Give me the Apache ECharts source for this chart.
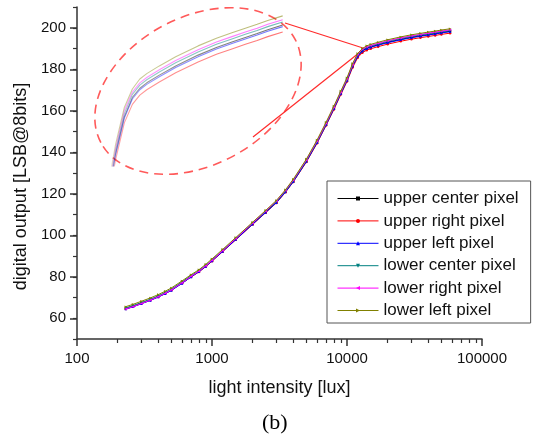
<!DOCTYPE html>
<html>
<head>
<meta charset="utf-8">
<script src="https://cdn.jsdelivr.net/npm/echarts@6/dist/echarts.min.js"></script>
<style>
  html, body { margin: 0; padding: 0; background: #fff; }
  #chart { width: 543px; height: 441px; }
</style>
</head>
<body>
<div id="chart"></div>
<script>
// light intensity [lux]
const lux = [230, 260, 300, 350, 400, 450, 500, 600, 700, 800, 900, 1000, 1200, 1500, 2000, 2500, 3000, 3500, 4000,
  5000, 6000, 7000, 8000, 9000, 10000, 11000, 12000, 13000, 14000, 15000, 17000, 20000, 25000, 30000, 35000,
  40000, 45000, 50000, 58000];

// digital output per pixel
const upperCenter = [64.7, 65.8, 67.3, 68.9, 70.5, 72.1, 73.7, 77.2, 80.2, 82.6, 85.2, 87.8, 92.4, 98.1, 105.5, 111.2,
  115.9, 121.0, 126.0, 135.7, 144.8, 153.4, 161.2, 168.4, 174.8, 181.6, 186.4, 188.9, 190.1, 190.8, 191.8, 193.0,
  194.4, 195.4, 196.1, 196.7, 197.2, 197.7, 198.3];
const upperRight = [64.5, 65.6, 67.1, 68.7, 70.3, 71.9, 73.5, 76.9, 79.9, 82.3, 84.9, 87.5, 92.1, 97.8, 105.2, 110.9,
  115.6, 120.7, 125.7, 135.3, 144.3, 152.9, 160.6, 167.8, 174.1, 180.8, 185.6, 188.0, 189.2, 189.9, 190.9, 192.1,
  193.5, 194.5, 195.2, 195.8, 196.3, 196.8, 197.4];
const upperLeft = [64.4, 65.5, 67.0, 68.6, 70.2, 71.8, 73.4, 76.8, 79.9, 82.4, 85.0, 87.6, 92.2, 97.9, 105.3, 111.0,
  115.7, 120.8, 125.8, 135.5, 144.6, 153.2, 161.0, 168.2, 174.6, 181.4, 186.2, 188.7, 189.9, 190.6, 191.6, 192.8,
  194.2, 195.2, 195.9, 196.5, 197.0, 197.5, 198.1];
const lowerCenter = [65.0, 66.1, 67.6, 69.2, 70.8, 72.4, 74.0, 77.5, 80.5, 82.9, 85.5, 88.1, 92.7, 98.4, 105.8, 111.5,
  116.2, 121.3, 126.3, 136.0, 145.1, 153.7, 161.5, 168.7, 175.1, 182.0, 186.8, 189.3, 190.5, 191.2, 192.2, 193.4,
  194.8, 195.8, 196.5, 197.1, 197.6, 198.1, 198.7];
const lowerRight = [64.5, 65.6, 67.1, 68.8, 70.4, 72.0, 73.7, 77.1, 80.2, 82.7, 85.3, 87.9, 92.6, 98.4, 105.9, 111.7,
  116.5, 121.6, 126.6, 136.3, 145.4, 154.0, 161.8, 169.0, 175.4, 182.3, 187.2, 189.6, 190.8, 191.5, 192.5, 193.7,
  195.1, 196.1, 196.8, 197.4, 197.9, 198.4, 199.0];
const lowerLeft = [65.6, 66.7, 68.2, 69.8, 71.4, 73.0, 74.6, 78.0, 81.0, 83.4, 86.0, 88.6, 93.2, 98.9, 106.3, 112.0,
  116.8, 121.9, 127.0, 136.7, 145.9, 154.5, 162.3, 169.5, 175.9, 182.8, 187.6, 190.0, 191.3, 192.0, 193.0, 194.2,
  195.6, 196.6, 197.3, 197.9, 198.4, 198.9, 199.5];

const seriesNames = ['upper center pixel', 'upper right pixel', 'upper left pixel',
  'lower center pixel', 'lower right pixel', 'lower left pixel'];
const seriesValues = [upperCenter, upperRight, upperLeft, lowerCenter, lowerRight, lowerLeft];

// axis ticks
const yTickValues = [60, 80, 100, 120, 140, 160, 180, 200];
const xMinorValues = [200, 300, 400, 500, 600, 700, 800, 900, 2000, 3000, 4000, 5000, 6000, 7000, 8000, 9000,
  20000, 30000, 40000, 50000, 60000, 70000, 80000, 90000];

// zoomed region of the inset (around the knee)
const kneePoint = [13500, 190];
const insetMinLux = 10000;

const colors = ['#000000', '#ff0000', '#0000ff', '#008080', '#ff00ff', '#808000'];
const rgb = [[0, 0, 0], [255, 0, 0], [0, 0, 255], [0, 128, 128], [255, 0, 255], [128, 128, 0]];
const symbols = ['rect', 'circle', 'triangle', 'triangle', 'triangle', 'triangle'];
const symbolRotates = [0, 0, 0, 180, 90, -90];

const font = 'Liberation Sans, Arial, sans-serif';
const axisColor = '#333';

const mainSeries = seriesNames.map((name, k) => ({
  name: name,
  type: 'line',
  xAxisIndex: 0,
  yAxisIndex: 0,
  data: lux.map((x, i) => [x, seriesValues[k][i]]),
  symbol: symbols[k],
  symbolRotate: symbolRotates[k],
  symbolSize: 2.5,
  lineStyle: { width: 1, color: colors[k] },
  itemStyle: { color: colors[k] },
  emphasis: { disabled: true },
  z: 3 + k
}));

const insetSeries = seriesNames.map((name, k) => {
  const c = rgb[k].join(',');
  return {
    name: 'inset ' + name,
    type: 'line',
    xAxisIndex: 2,
    yAxisIndex: 2,
    data: lux.map((x, i) => [x, seriesValues[k][i]]).filter(d => d[0] >= insetMinLux),
    showSymbol: false,
    silent: true,
    lineStyle: {
      width: 1.1,
      color: {
        type: 'linear', x: 0, y: 1, x2: 1, y2: 0,
        colorStops: [
          { offset: 0, color: 'rgba(' + c + ',0)' },
          { offset: 0.2, color: 'rgba(' + c + ',0.35)' },
          { offset: 1, color: 'rgba(' + c + ',0.55)' }
        ]
      }
    },
    z: 2
  };
});

const chart = echarts.init(document.getElementById('chart'));

chart.setOption({
  animation: false,
  backgroundColor: '#fff',
  title: {
    text: '(b)',
    left: 262,
    top: 412,
    padding: 0,
    textStyle: { fontFamily: 'Liberation Serif, Times New Roman, serif', fontSize: 22, fontWeight: 'normal', color: '#000' }
  },
  legend: {
    data: seriesNames,
    orient: 'vertical',
    left: 327,
    top: 181,
    padding: [9, 12, 4, 10],
    itemGap: 5.4,
    itemWidth: 41,
    itemHeight: 5,
    borderColor: '#555',
    borderWidth: 1,
    selectedMode: false,
    lineStyle: { width: 1 },
    textStyle: { fontFamily: font, fontSize: 17, color: '#111' }
  },
  grid: [
    { left: 77, right: 61, top: 7, bottom: 102 },
    { left: 106, top: 12, width: 185, height: 154 }
  ],
  xAxis: [
    {
      type: 'log', logBase: 10, gridIndex: 0, min: 100, max: 100000,
      name: 'light intensity [lux]', nameLocation: 'middle', nameGap: 40,
      nameTextStyle: { fontFamily: font, fontSize: 18, color: '#111' },
      axisLine: { onZero: false, lineStyle: { color: axisColor, width: 1.5 } },
      axisTick: { inside: false, length: 7, lineStyle: { color: axisColor, width: 1.5 } },
      axisLabel: { fontFamily: font, fontSize: 15, color: '#111', margin: 12, formatter: v => String(Math.round(v)) },
      splitLine: { show: false }, minorTick: { show: false }
    },
    {
      // minor ticks of the log axis, placed at log10 of the tick values
      type: 'value', gridIndex: 0, min: 2, max: 5, position: 'bottom',
      axisLine: { show: false, onZero: false },
      axisTick: { show: true, inside: false, length: 4, customValues: xMinorValues.map(v => Math.log10(v)), lineStyle: { color: axisColor, width: 1.2 } },
      axisLabel: { show: false },
      splitLine: { show: false }
    },
    {
      type: 'log', logBase: 10, gridIndex: 1, min: insetMinLux, max: 63000, show: false
    }
  ],
  yAxis: [
    {
      type: 'value', gridIndex: 0, min: 50, max: 210, position: 'left',
      name: 'digital output [LSB@8bits]', nameLocation: 'middle', nameGap: 47,
      nameTextStyle: { fontFamily: font, fontSize: 18, color: '#111', padding: [0, 27, 0, 0] },
      axisLine: { show: true, onZero: false, lineStyle: { color: axisColor, width: 1.5 } },
      axisTick: { show: true, inside: false, length: 7, customValues: yTickValues, lineStyle: { color: axisColor, width: 1.5 } },
      axisLabel: { fontFamily: font, fontSize: 15, color: '#111', margin: 11, customValues: yTickValues },
      splitLine: { show: false }
    },
    {
      // short ticks every 10 units; the long ticks of the main axis cover the labelled ones
      type: 'value', gridIndex: 0, min: 50, max: 210, interval: 10, position: 'left',
      axisLine: { show: false, onZero: false },
      axisTick: { show: true, inside: false, length: 4, lineStyle: { color: axisColor, width: 1.2 } },
      axisLabel: { show: false },
      splitLine: { show: false }
    },
    {
      type: 'value', gridIndex: 1, min: 180, max: 200, show: false
    }
  ],
  series: mainSeries.concat(insetSeries)
});

// inset frame and connector lines pointing at the knee of the curves
const knee = chart.convertToPixel({ xAxisIndex: 0, yAxisIndex: 0 }, kneePoint);
chart.setOption({
  graphic: [
    {
      type: 'ellipse',
      x: 198, y: 91,
      rotation: 28 * Math.PI / 180,
      shape: { cx: 0, cy: 0, rx: 110, ry: 74 },
      style: { fill: 'none', stroke: '#ff5a5a', lineWidth: 1.6, lineDash: [9, 6] },
      silent: true
    },
    {
      type: 'line',
      shape: { x1: 285, y1: 23, x2: knee[0], y2: knee[1] },
      style: { stroke: '#ff2a2a', lineWidth: 1.2 },
      silent: true
    },
    {
      type: 'line',
      shape: { x1: 253, y1: 137, x2: knee[0], y2: knee[1] },
      style: { stroke: '#ff2a2a', lineWidth: 1.2 },
      silent: true
    }
  ]
});
</script>
</body>
</html>
